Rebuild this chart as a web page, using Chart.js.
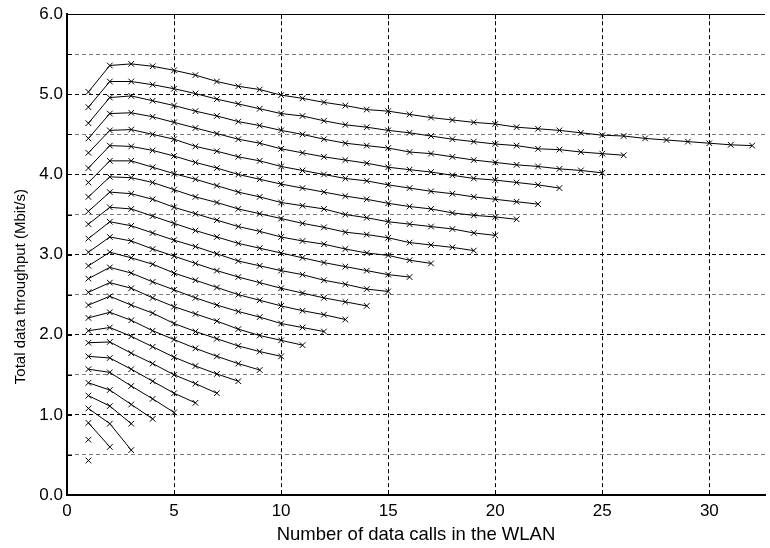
<!DOCTYPE html>
<html>
<head>
<meta charset="utf-8">
<script src="https://cdn.jsdelivr.net/npm/chart.js@4.4.1/dist/chart.umd.min.js"></script>
<style>
  html, body { margin: 0; padding: 0; background: #fff; overflow: hidden; }
  #cntr_grafica { width: 770px; height: 548px; }
</style>
</head>
<body>
<div id="cntr_grafica"><canvas id="grafica" width="770" height="548"></canvas></div>
<script>
// numero de llamadas de datos (eje x)
const dataCalls = [1, 2, 3, 4, 5, 6, 7, 8, 9, 10, 11, 12, 13, 14, 15, 16,
  17, 18, 19, 20, 21, 22, 23, 24, 25, 26, 27, 28, 29, 30, 31, 32];

// throughput total (Mbit/s), una curva por carga, desde 1 llamada
const s1 = [0.43];
const s2 = [0.69];
const s3 = [0.90, 0.60];
const s4 = [1.08, 0.89, 0.56];
const s5 = [1.24, 1.11, 0.89];
const s6 = [1.40, 1.31, 1.13, 0.95];
const s7 = [1.57, 1.53, 1.36, 1.20, 1.03];
const s8 = [1.73, 1.71, 1.57, 1.42, 1.27, 1.15];
const s9 = [1.90, 1.91, 1.77, 1.64, 1.50, 1.39, 1.27];
const s10 = [2.05, 2.09, 1.98, 1.85, 1.72, 1.61, 1.51, 1.42];
const s11 = [2.21, 2.28, 2.18, 2.05, 1.94, 1.83, 1.73, 1.64, 1.56];
const s12 = [2.37, 2.48, 2.37, 2.27, 2.14, 2.04, 1.95, 1.86, 1.79, 1.73];
const s13 = [2.53, 2.65, 2.58, 2.46, 2.35, 2.26, 2.17, 2.07, 1.99, 1.93, 1.87];
const s14 = [2.70, 2.84, 2.77, 2.66, 2.56, 2.46, 2.37, 2.29, 2.22, 2.14, 2.09, 2.04];
const s15 = [2.86, 3.03, 2.96, 2.88, 2.77, 2.68, 2.59, 2.50, 2.43, 2.36, 2.30, 2.25, 2.19];
const s16 = [3.03, 3.22, 3.17, 3.07, 2.98, 2.89, 2.80, 2.72, 2.65, 2.58, 2.52, 2.46, 2.41, 2.36];
const s17 = [3.20, 3.41, 3.36, 3.27, 3.18, 3.10, 3.01, 2.92, 2.86, 2.80, 2.75, 2.68, 2.63, 2.57, 2.54];
const s18 = [3.38, 3.59, 3.57, 3.48, 3.39, 3.30, 3.22, 3.14, 3.08, 3.02, 2.96, 2.90, 2.85, 2.80, 2.75, 2.72];
const s19 = [3.54, 3.78, 3.76, 3.69, 3.59, 3.51, 3.43, 3.35, 3.29, 3.22, 3.17, 3.13, 3.07, 3.02, 2.99, 2.93, 2.89];
const s20 = [3.72, 3.97, 3.96, 3.90, 3.81, 3.72, 3.65, 3.57, 3.51, 3.45, 3.39, 3.34, 3.28, 3.25, 3.21, 3.15, 3.12, 3.09, 3.05];
const s21 = [3.90, 4.17, 4.17, 4.09, 4.01, 3.94, 3.86, 3.78, 3.72, 3.65, 3.61, 3.57, 3.50, 3.46, 3.41, 3.38, 3.35, 3.32, 3.27, 3.24];
const s22 = [4.08, 4.36, 4.35, 4.30, 4.23, 4.15, 4.08, 4.00, 3.94, 3.88, 3.83, 3.78, 3.73, 3.69, 3.64, 3.60, 3.57, 3.52, 3.49, 3.47, 3.44];
const s23 = [4.27, 4.55, 4.56, 4.50, 4.44, 4.35, 4.29, 4.22, 4.17, 4.10, 4.05, 4.00, 3.95, 3.92, 3.87, 3.83, 3.79, 3.76, 3.72, 3.69, 3.66, 3.63];
const s24 = [4.45, 4.76, 4.77, 4.72, 4.65, 4.58, 4.51, 4.44, 4.39, 4.32, 4.27, 4.22, 4.18, 4.14, 4.09, 4.06, 4.03, 3.99, 3.95, 3.93, 3.90, 3.87, 3.83];
const s25 = [4.64, 4.96, 4.98, 4.92, 4.86, 4.79, 4.73, 4.66, 4.61, 4.55, 4.50, 4.44, 4.39, 4.36, 4.33, 4.28, 4.26, 4.22, 4.18, 4.15, 4.12, 4.10, 4.07, 4.05, 4.02];
const s26 = [4.84, 5.16, 5.16, 5.12, 5.07, 5.01, 4.94, 4.88, 4.82, 4.76, 4.73, 4.67, 4.62, 4.59, 4.55, 4.52, 4.48, 4.44, 4.41, 4.38, 4.36, 4.32, 4.31, 4.28, 4.26, 4.24];
const s27 = [5.03, 5.36, 5.38, 5.35, 5.30, 5.24, 5.16, 5.10, 5.06, 4.99, 4.95, 4.90, 4.86, 4.81, 4.79, 4.75, 4.71, 4.68, 4.65, 4.63, 4.59, 4.57, 4.55, 4.52, 4.49, 4.48, 4.45, 4.43, 4.41, 4.39, 4.37, 4.36];

const curvas = [s1, s2, s3, s4, s5, s6, s7, s8, s9, s10, s11, s12, s13, s14,
  s15, s16, s17, s18, s19, s20, s21, s22, s23, s24, s25, s26, s27];

const xTicks = [0, 5, 10, 15, 20, 25, 30];
const yTicks = [0, 1, 2, 3, 4, 5, 6];

const familia = "'Liberation Sans', Arial, sans-serif";
const tituloY = 'Total data throughput (Mbit/s)';

// marco superior, marcas hacia dentro y titulo del eje y (algo bajo el centro)
const marcoEjes = {
  id: 'marcoEjes',
  afterDatasetsDraw(chart) {
    const { ctx, chartArea: a, scales: { x, y } } = chart;
    ctx.save();
    ctx.strokeStyle = '#000';
    ctx.lineWidth = 1;
    ctx.beginPath();
    ctx.moveTo(a.left, Math.round(a.top) + 0.5);
    ctx.lineTo(a.right, Math.round(a.top) + 0.5);
    y.ticks.forEach(t => {
      const py = Math.round(y.getPixelForValue(t.value)) + 0.5;
      ctx.moveTo(a.left, py);
      ctx.lineTo(a.left + 5, py);
    });
    x.ticks.filter(t => xTicks.includes(t.value)).forEach(t => {
      const px = Math.round(x.getPixelForValue(t.value)) + 0.5;
      ctx.moveTo(px, a.bottom);
      ctx.lineTo(px, a.bottom - 5);
      ctx.moveTo(px, a.top);
      ctx.lineTo(px, a.top + 5);
    });
    ctx.stroke();

    ctx.translate(21, y.getPixelForValue(2.6));
    ctx.rotate(-Math.PI / 2);
    ctx.fillStyle = '#000';
    ctx.font = '15px ' + familia;
    ctx.textAlign = 'center';
    ctx.textBaseline = 'middle';
    ctx.fillText(tituloY, 0, 0);
    ctx.restore();
  }
};

const datasets = curvas.map(vals => ({
  data: vals.map((v, i) => ({ x: dataCalls[i], y: v })),
  borderColor: '#000',
  borderWidth: 1,
  pointStyle: 'crossRot',
  pointRadius: 4,
  pointBorderColor: '#000',
  pointBorderWidth: 1,
  pointBackgroundColor: '#000',
  tension: 0
}));

const ctx = document.getElementById('grafica');
new Chart(ctx, {
  type: 'line',
  data: { datasets },
  plugins: [marcoEjes],
  options: {
    responsive: false,
    devicePixelRatio: 1,
    animation: false,
    layout: { padding: { top: 12, right: 0, bottom: 0, left: 0 } },
    plugins: {
      legend: { display: false },
      tooltip: { enabled: false }
    },
    scales: {
      x: {
        type: 'linear',
        min: 0,
        max: 32.6,
        ticks: {
          stepSize: 5,
          includeBounds: false,
          color: '#000',
          font: { family: familia, size: 17 },
          padding: 6,
          maxRotation: 0,
          callback: v => xTicks.includes(v) ? String(v) : ''
        },
        grid: {
          drawTicks: false,
          color: c => (c.tick && xTicks.includes(c.tick.value)) ? '#000' : 'rgba(0,0,0,0)'
        },
        border: { color: '#000', width: 2, dash: [4, 3] },
        title: {
          display: true,
          text: 'Number of data calls in the WLAN',
          color: '#000',
          font: { family: familia, size: 18.5 },
          padding: { top: 0, bottom: 2 }
        },
        afterFit: s => { s.height = 53; }
      },
      y: {
        min: 0,
        max: 6,
        ticks: {
          stepSize: 0.5,
          autoSkip: false,
          color: '#000',
          font: { family: familia, size: 17 },
          padding: 4,
          callback: v => yTicks.includes(v) ? v.toFixed(1) : ''
        },
        grid: {
          drawTicks: false,
          color: c => (c.tick && c.tick.value % 1 !== 0) ? '#7a7a7a' : '#000'
        },
        border: { color: '#000', width: 2, dash: [4, 3] },
        title: { display: false },
        afterFit: s => { s.width = 67; }
      }
    }
  }
});
</script>
</body>
</html>
